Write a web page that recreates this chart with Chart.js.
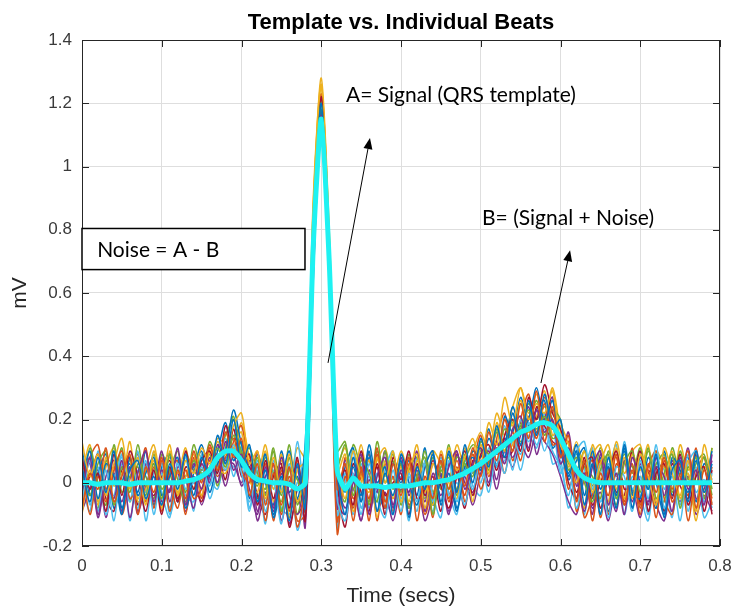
<!DOCTYPE html>
<html>
<head>
<meta charset="utf-8">
<title>Template vs. Individual Beats</title>
<script src="https://cdn.jsdelivr.net/npm/chart.js@4.4.0/dist/chart.umd.min.js"></script>
<style>
  html, body { margin: 0; padding: 0; background: #fff; }
  #wrap { width: 734px; height: 607px; }
</style>
</head>
<body>
<div id="wrap"><canvas id="ecg" width="734" height="607"></canvas></div>
<script>
// sample times (secs)
const times = [
  0.00, 0.01, 0.02, 0.03, 0.04, 0.05, 0.06, 0.07, 0.08, 0.09,
  0.10, 0.11, 0.12, 0.13, 0.14, 0.15, 0.16, 0.17, 0.18, 0.19,
  0.20, 0.21, 0.22, 0.23, 0.24, 0.25, 0.26, 0.27, 0.28, 0.29,
  0.30, 0.31, 0.32, 0.33, 0.34, 0.35, 0.36, 0.37, 0.38, 0.39,
  0.40, 0.41, 0.42, 0.43, 0.44, 0.45, 0.46, 0.47, 0.48, 0.49,
  0.50, 0.51, 0.52, 0.53, 0.54, 0.55, 0.56, 0.57, 0.58, 0.59,
  0.60, 0.61, 0.62, 0.63, 0.64, 0.65, 0.66, 0.67, 0.68, 0.69,
  0.70, 0.71, 0.72, 0.73, 0.74, 0.75, 0.76, 0.77, 0.78, 0.79
];

const xTicks = [0, 0.1, 0.2, 0.3, 0.4, 0.5, 0.6, 0.7, 0.8];
const xTickLabels = ['0', '0.1', '0.2', '0.3', '0.4', '0.5', '0.6', '0.7', '0.8'];
const yTicks = [-0.2, 0, 0.2, 0.4, 0.6, 0.8, 1, 1.2, 1.4];
const yTickLabels = ['-0.2', '0', '0.2', '0.4', '0.6', '0.8', '1', '1.2', '1.4'];

// QRS template (mV)
const template = [
  0, 0, -0.005, 0, 0, 0, -0.005, 0, 0, 0,
  0, 0, 0, 0.005, 0.01, 0.02, 0.04, 0.08, 0.1, 0.1,
  0.07, 0.03, 0.01, 0.005, 0, 0, -0.005, -0.02, 0.0, 0.75,
  1.15, 0.7, 0.04, -0.02, 0.015, -0.01, -0.01, -0.01, -0.015, -0.01,
  -0.01, -0.01, -0.005, 0, 0, 0.005, 0.01, 0.02, 0.03, 0.045,
  0.06, 0.08, 0.1, 0.12, 0.14, 0.16, 0.17, 0.185, 0.19, 0.18,
  0.14, 0.09, 0.04, 0.015, 0.005, 0, 0, 0, 0, 0,
  0, 0, 0, 0, 0, 0, 0, 0, 0, 0
];

// individual beats (mV)
const beat01 = [
  0.05, -0.06, 0.08, -0.03, 0.1, -0.08, 0.04, 0.07, -0.05, 0.02,
  -0.07, 0.06, -0.02, 0.09, -0.04, 0.08, 0.02, 0.15, 0.06, 0.2,
  0.05, 0.12, -0.06, 0.04, -0.1, 0.02, -0.12, 0.06, -0.08, 0.72,
  1.2, 0.68, 0.04, -0.1, 0.08, -0.06, 0.1, -0.09, 0.03, -0.04,
  0.07, -0.11, 0.05, -0.02, 0.09, -0.06, 0.1, -0.03, 0.12, 0.0,
  0.14, 0.05, 0.18, 0.08, 0.22, 0.12, 0.26, 0.15, 0.28, 0.17,
  0.2, 0.02, 0.1, -0.07, 0.06, -0.1, 0.08, -0.04, 0.11, -0.08,
  0.05, -0.02, 0.09, -0.11, 0.04, 0.07, -0.06, 0.1, -0.03, 0.06
];
const beat02 = [
  -0.08, 0.03, -0.02, 0.11, -0.06, 0.02, 0.09, -0.1, 0.05, -0.03,
  0.08, -0.09, 0.04, -0.05, 0.1, 0.0, 0.12, 0.04, 0.16, 0.08,
  0.14, -0.04, 0.06, -0.12, 0.03, -0.07, 0.05, -0.14, 0.02, 0.8,
  1.14, 0.74, -0.02, 0.06, -0.12, 0.04, -0.05, 0.11, -0.08, 0.06,
  -0.04, 0.08, -0.12, 0.02, -0.05, 0.09, -0.02, 0.07, -0.01, 0.11,
  0.02, 0.16, 0.07, 0.2, 0.1, 0.25, 0.14, 0.29, 0.13, 0.24,
  0.08, 0.15, -0.06, 0.07, -0.12, 0.03, -0.04, 0.09, -0.07, 0.04,
  -0.1, 0.06, -0.03, 0.08, -0.06, 0.01, 0.1, -0.08, 0.04, -0.05
];
const beat03 = [
  0.13, 0.02, 0.09, -0.04, 0.06, 0.14, -0.02, 0.08, -0.07, 0.1,
  0.01, 0.12, -0.04, 0.07, 0.03, 0.11, 0.06, 0.13, 0.09, 0.18,
  0.22, 0.06, 0.1, -0.05, 0.08, -0.03, 0.09, -0.06, 0.05, 0.86,
  1.28, 0.8, 0.08, -0.05, 0.1, 0.02, -0.03, 0.08, 0.0, 0.1,
  -0.06, 0.05, 0.09, -0.08, 0.06, 0.0, 0.11, 0.04, 0.08, 0.14,
  0.06, 0.19, 0.12, 0.27, 0.18, 0.3, 0.2, 0.25, 0.22, 0.29,
  0.12, 0.07, 0.0, 0.1, -0.03, 0.06, 0.12, -0.02, 0.08, -0.05,
  0.09, 0.02, -0.07, 0.11, 0.03, -0.04, 0.07, -0.09, 0.12, 0.0
];
const beat04 = [
  -0.03, 0.08, -0.1, 0.0, -0.05, 0.07, -0.11, 0.03, 0.1, -0.06,
  0.04, -0.03, 0.11, -0.07, 0.06, -0.02, 0.08, 0.0, 0.13, 0.04,
  0.09, -0.02, -0.1, 0.05, -0.08, 0.08, -0.04, -0.1, -0.03, 0.7,
  1.16, 0.66, 0.02, -0.08, 0.0, 0.09, -0.1, 0.02, 0.08, -0.07,
  0.04, -0.03, 0.1, -0.09, 0.03, -0.04, 0.05, 0.1, -0.02, 0.06,
  0.11, 0.0, 0.13, 0.06, 0.17, 0.21, 0.11, 0.23, 0.16, 0.2,
  0.06, 0.11, 0.02, -0.09, 0.05, 0.1, -0.07, 0.03, -0.1, 0.08,
  0.0, -0.06, 0.05, 0.02, -0.09, 0.08, -0.02, 0.04, -0.07, 0.09
];
const beat05 = [
  0.02, -0.04, 0.06, 0.1, -0.07, 0.05, -0.03, 0.12, -0.01, 0.06,
  -0.05, 0.09, 0.01, -0.06, 0.07, 0.03, 0.05, 0.11, 0.05, 0.15,
  0.1, 0.02, 0.08, -0.04, 0.1, -0.09, 0.04, 0.01, -0.06, 0.76,
  1.2, 0.72, 0.1, 0.13, -0.04, 0.07, 0.03, -0.06, 0.1, -0.02,
  0.06, -0.08, 0.02, 0.08, -0.1, 0.04, -0.02, 0.08, 0.06, 0.02,
  0.13, 0.09, 0.1, 0.17, 0.14, 0.18, 0.23, 0.17, 0.21, 0.14,
  0.15, 0.04, 0.08, 0.0, -0.06, 0.04, 0.09, -0.05, 0.06, 0.1,
  -0.03, 0.11, -0.05, 0.03, 0.09, -0.08, 0.05, 0.0, 0.08, -0.04
];
const beat06 = [
  -0.06, 0.07, -0.09, 0.04, -0.12, 0.06, 0.0, -0.08, 0.07, -0.1,
  0.03, -0.08, 0.06, -0.02, 0.0, 0.05, -0.01, 0.09, 0.04, 0.12,
  0.03, -0.06, 0.05, -0.09, 0.0, -0.13, 0.06, -0.15, 0.0, 0.74,
  1.12, 0.7, -0.05, -0.12, 0.03, -0.1, 0.06, -0.05, -0.11, 0.04,
  -0.09, 0.03, -0.06, 0.06, -0.04, -0.11, 0.07, -0.06, 0.04, -0.02,
  0.07, -0.03, 0.1, 0.03, 0.14, 0.09, 0.19, 0.12, 0.17, 0.1,
  0.05, -0.04, 0.1, 0.13, -0.02, 0.06, -0.11, 0.05, 0.02, -0.09,
  0.07, -0.05, 0.12, -0.08, 0.02, -0.12, 0.06, 0.1, -0.06, 0.03
];
const beat07 = [
  0.08, -0.02, 0.03, -0.09, 0.09, -0.04, 0.1, 0.02, -0.09, 0.04,
  -0.1, 0.05, -0.06, 0.1, -0.02, 0.07, 0.1, 0.03, 0.18, 0.09,
  0.07, 0.09, -0.07, 0.07, -0.05, 0.05, -0.08, 0.08, -0.12, 0.68,
  1.22, 0.76, 0.0, 0.04, -0.07, 0.1, -0.02, 0.05, -0.1, 0.08,
  0.01, 0.1, -0.05, -0.02, 0.07, -0.01, -0.08, 0.02, 0.1, -0.04,
  0.09, 0.12, 0.04, 0.15, 0.2, 0.1, 0.27, 0.2, 0.31, 0.22,
  0.17, 0.09, -0.03, 0.06, 0.08, -0.08, 0.02, 0.1, -0.02, 0.0,
  0.1, -0.09, 0.03, 0.06, -0.05, 0.09, -0.07, 0.02, 0.05, -0.1
];
const beat08 = [
  0.0, 0.1, -0.05, 0.06, 0.02, -0.1, 0.08, -0.04, 0.03, 0.08,
  -0.04, 0.02, 0.08, -0.08, 0.03, 0.1, -0.03, 0.06, 0.1, 0.23,
  0.12, 0.04, 0.0, 0.09, -0.11, 0.0, 0.1, -0.05, 0.13, 0.82,
  1.18, 0.68, 0.06, -0.03, 0.05, -0.04, 0.12, 0.0, 0.05, -0.1,
  0.09, 0.0, -0.07, 0.05, 0.1, -0.07, 0.03, -0.09, 0.05, 0.08,
  0.04, 0.14, 0.09, 0.12, 0.24, 0.16, 0.2, 0.3, 0.19, 0.26,
  0.1, 0.03, 0.12, -0.04, 0.1, -0.02, 0.05, -0.08, 0.12, -0.03,
  -0.05, 0.08, 0.0, -0.1, 0.08, 0.04, -0.03, 0.07, -0.01, 0.1
];
const beat09 = [
  0.06, -0.1, 0.02, -0.06, 0.04, 0.1, -0.05, 0.0, 0.11, -0.08,
  0.07, 0.0, -0.08, 0.04, -0.05, -0.02, 0.07, 0.02, 0.08, 0.14,
  0.04, 0.0, 0.1, -0.07, 0.06, -0.1, 0.02, -0.12, -0.1, 0.7,
  1.15, 0.64, -0.16, 0.02, -0.08, 0.05, -0.12, 0.09, -0.06, 0.02,
  -0.1, 0.06, 0.02, -0.1, 0.0, 0.07, -0.06, 0.05, -0.04, 0.09,
  -0.02, 0.07, 0.13, 0.03, 0.16, 0.07, 0.21, 0.14, 0.25, 0.12,
  0.13, -0.02, 0.05, -0.11, -0.04, 0.07, -0.1, 0.06, 0.0, 0.06,
  -0.08, 0.04, -0.11, 0.07, -0.02, 0.06, -0.12, 0.03, 0.08, -0.07
];
const beat10 = [
  -0.1, 0.04, -0.07, 0.08, -0.01, 0.03, 0.07, -0.06, -0.02, 0.07,
  -0.08, 0.1, -0.03, 0.02, 0.09, -0.04, 0.1, 0.05, 0.03, 0.11,
  0.16, 0.01, -0.03, 0.1, -0.06, 0.09, -0.11, 0.04, 0.07, 0.88,
  1.25, 0.78, 0.03, 0.09, -0.09, 0.0, 0.07, -0.11, 0.07, -0.05,
  0.05, -0.06, 0.07, 0.01, -0.07, 0.1, 0.0, -0.05, 0.11, -0.06,
  0.12, 0.03, 0.19, 0.1, 0.12, 0.26, 0.16, 0.21, 0.29, 0.15,
  0.18, 0.12, 0.03, -0.08, 0.12, 0.01, -0.06, 0.11, -0.05, 0.09,
  0.04, 0.12, -0.06, 0.01, 0.1, -0.05, 0.03, -0.12, 0.05, 0.02
];
const beat11 = [
  0.04, 0.06, -0.11, 0.02, 0.07, -0.09, 0.05, -0.1, 0.06, 0.0,
  0.1, -0.06, 0.05, 0.01, -0.08, 0.06, 0.0, 0.12, 0.07, 0.06,
  0.0, 0.07, -0.09, 0.02, 0.06, -0.12, 0.0, 0.05, -0.14, 0.66,
  1.1, 0.7, -0.08, 0.07, 0.02, -0.12, 0.04, -0.03, 0.1, -0.08,
  0.08, -0.04, 0.04, -0.06, 0.06, 0.02, -0.1, 0.09, 0.0, -0.03,
  0.06, 0.1, 0.01, 0.14, 0.08, 0.15, 0.24, 0.09, 0.2, 0.27,
  0.08, 0.16, -0.01, 0.03, -0.1, 0.09, 0.0, -0.09, 0.07, -0.06,
  0.06, -0.07, 0.08, -0.04, 0.07, 0.0, 0.11, -0.05, -0.02, 0.07
];
const beat12 = [
  -0.05, 0.11, 0.0, -0.07, 0.12, -0.03, 0.02, 0.05, -0.04, 0.09,
  -0.02, 0.04, 0.1, -0.03, 0.12, 0.04, 0.09, -0.01, 0.11, 0.21,
  0.08, 0.11, 0.03, -0.02, 0.11, -0.04, 0.12, -0.07, 0.1, 0.78,
  1.21, 0.74, 0.05, 0.12, -0.02, 0.08, -0.07, 0.1, 0.02, 0.09,
  -0.03, 0.09, -0.01, 0.1, -0.03, 0.05, 0.08, -0.02, 0.07, 0.12,
  0.1, 0.06, 0.16, 0.13, 0.19, 0.13, 0.17, 0.26, 0.15, 0.23,
  0.2, 0.06, 0.09, 0.05, 0.02, -0.05, 0.1, 0.02, 0.09, 0.03,
  0.11, -0.02, 0.06, 0.09, -0.03, 0.1, 0.01, 0.08, -0.05, 0.11
];
const beat13 = [
  0.09, -0.07, 0.05, -0.1, 0.01, 0.08, -0.06, 0.1, -0.12, 0.03,
  0.06, -0.1, 0.0, 0.08, -0.09, 0.09, -0.05, 0.04, 0.14, 0.02,
  0.11, -0.08, 0.04, -0.13, 0.07, -0.02, -0.07, 0.13, -0.05, 0.84,
  1.19, 0.72, -0.1, 0.0, 0.1, -0.08, 0.02, -0.09, 0.04, 0.1,
  -0.05, 0.02, -0.09, 0.07, -0.06, 0.08, -0.04, 0.0, -0.07, 0.04,
  0.0, 0.11, 0.05, 0.18, 0.04, 0.2, 0.13, 0.19, 0.1, 0.18,
  0.03, 0.08, -0.08, 0.04, 0.11, -0.1, 0.06, -0.05, 0.13, -0.02,
  0.02, -0.1, 0.09, -0.02, 0.05, -0.07, 0.09, -0.03, 0.01, -0.08
];
const beat14 = [
  -0.02, 0.02, 0.09, -0.05, -0.09, 0.04, 0.08, -0.07, 0.0, -0.04,
  0.02, 0.07, -0.05, 0.05, 0.01, -0.06, 0.04, 0.09, 0.01, 0.17,
  0.02, 0.05, -0.04, -0.1, 0.02, 0.06, -0.14, -0.02, 0.04, 0.76,
  1.17, 0.69, 0.01, -0.14, 0.06, -0.03, -0.09, 0.06, -0.04, 0.0,
  0.03, -0.1, 0.06, -0.04, 0.02, -0.09, 0.06, 0.03, -0.08, 0.07,
  0.05, -0.01, 0.11, 0.08, 0.1, 0.19, 0.1, 0.24, 0.18, 0.13,
  0.11, 0.0, -0.05, 0.08, -0.07, 0.0, 0.05, -0.03, -0.04, 0.1,
  -0.06, 0.03, 0.05, -0.09, 0.06, -0.01, -0.05, 0.09, -0.09, 0.04
];
const beat15 = [
  0.11, -0.04, 0.03, 0.09, -0.08, 0.0, 0.06, -0.03, 0.1, -0.07,
  0.05, 0.09, -0.06, 0.02, 0.05, 0.12, 0.03, 0.1, 0.19, 0.07,
  0.13, -0.05, 0.09, 0.0, -0.07, 0.1, -0.03, 0.02, -0.09, 0.74,
  1.19, 0.7, -0.04, 0.05, 0.11, -0.06, 0.08, -0.02, -0.08, 0.06,
  0.0, 0.07, -0.04, 0.11, -0.07, 0.01, 0.09, -0.08, 0.03, 0.1,
  0.08, 0.17, 0.05, 0.21, 0.16, 0.27, 0.18, 0.23, 0.26, 0.11,
  0.14, 0.01, 0.07, 0.11, -0.05, 0.08, -0.09, 0.0, 0.1, -0.04,
  0.08, 0.0, -0.08, 0.1, -0.04, 0.05, 0.08, -0.06, 0.06, 0.01
];
const beat16 = [
  -0.04, 0.08, 0.12, -0.02, 0.05, -0.1, 0.01, 0.09, -0.06, 0.05,
  -0.09, 0.03, 0.07, -0.1, 0.08, -0.05, 0.11, 0.06, 0.04, 0.13,
  0.18, 0.03, -0.05, 0.06, -0.12, 0.04, -0.09, 0.07, -0.07, 0.79,
  1.23, 0.73, -0.12, 0.08, -0.05, 0.02, 0.09, -0.12, 0.06, -0.09,
  0.06, -0.07, 0.0, 0.06, -0.11, 0.07, -0.05, 0.1, -0.06, 0.05,
  0.15, 0.02, 0.14, 0.22, 0.07, 0.2, 0.28, 0.16, 0.27, 0.19,
  0.09, 0.13, -0.09, 0.02, 0.07, -0.11, 0.04, 0.08, -0.06, 0.11,
  -0.07, 0.05, 0.1, -0.05, -0.1, 0.03, -0.04, 0.11, -0.05, 0.05
];
const beat17 = [
  0.03, 0.12, -0.06, 0.05, 0.11, 0.0, 0.13, -0.05, 0.04, 0.12,
  0.0, 0.08, 0.03, 0.11, -0.02, 0.09, 0.07, 0.14, 0.12, 0.1,
  0.19, 0.08, 0.02, 0.12, -0.02, 0.07, 0.0, 0.11, 0.08, 0.9,
  1.26, 0.77, 0.06, 0.11, 0.0, 0.12, -0.01, 0.07, 0.11, 0.01,
  0.1, 0.03, 0.12, -0.03, 0.1, 0.06, 0.01, 0.12, 0.05, 0.1,
  0.16, 0.09, 0.22, 0.15, 0.24, 0.3, 0.22, 0.28, 0.2, 0.3,
  0.16, 0.05, 0.13, 0.04, 0.09, 0.12, 0.0, 0.13, 0.03, 0.1,
  0.12, 0.0, 0.1, 0.05, -0.02, 0.12, 0.04, 0.09, -0.03, 0.11
];
const beat18 = [
  -0.09, -0.02, 0.04, -0.11, 0.03, -0.06, 0.05, -0.09, -0.01, 0.06,
  -0.06, -0.02, 0.03, -0.09, 0.02, -0.07, 0.02, 0.07, -0.01, 0.09,
  -0.01, 0.04, -0.12, -0.03, -0.09, 0.03, -0.13, -0.05, -0.11, 0.64,
  1.13, 0.66, -0.06, -0.1, -0.02, -0.12, 0.01, -0.09, -0.03, -0.12,
  -0.02, -0.08, 0.01, -0.12, -0.04, 0.03, -0.09, -0.02, 0.02, -0.07,
  0.03, 0.08, -0.02, 0.1, 0.05, 0.12, 0.08, 0.16, 0.13, 0.09,
  0.02, -0.06, -0.1, 0.01, -0.08, -0.03, -0.12, 0.0, -0.07, -0.02,
  -0.11, 0.01, -0.07, -0.12, 0.0, -0.06, 0.02, -0.1, -0.04, -0.09
];
const beat19 = [
  0.07, 0.0, -0.08, 0.07, 0.02, 0.11, -0.06, 0.06, 0.02, -0.05,
  0.09, 0.03, -0.04, 0.09, 0.04, 0.01, 0.13, 0.08, 0.15, 0.2,
  0.09, 0.05, -0.01, 0.08, 0.03, -0.06, 0.08, -0.1, 0.06, 0.81,
  1.17, 0.75, 0.02, -0.06, 0.12, 0.04, -0.06, 0.13, 0.0, 0.07,
  -0.07, 0.04, 0.08, -0.05, 0.08, -0.02, 0.12, -0.04, 0.09, 0.03,
  0.11, 0.04, 0.17, 0.1, 0.2, 0.17, 0.25, 0.2, 0.24, 0.2,
  0.1, 0.07, 0.04, 0.1, -0.01, 0.11, 0.03, -0.07, 0.07, 0.05,
  0.0, 0.1, 0.02, -0.06, 0.11, 0.02, -0.01, 0.06, 0.09, -0.02
];
const beat20 = [
  -0.01, -0.09, 0.1, -0.03, -0.04, 0.09, -0.12, 0.04, -0.03, 0.1,
  -0.03, -0.11, 0.07, -0.04, -0.06, 0.04, 0.01, -0.02, 0.08, 0.05,
  0.06, -0.09, 0.07, -0.06, 0.04, -0.08, -0.1, 0.0, -0.02, 0.71,
  1.13, 0.71, -0.14, 0.03, -0.1, 0.06, -0.08, 0.03, -0.05, -0.1,
  0.02, -0.12, 0.08, -0.02, -0.09, 0.05, -0.03, -0.1, 0.07, -0.01,
  -0.04, 0.09, 0.06, 0.07, 0.13, 0.04, 0.15, 0.11, 0.22, 0.06,
  0.07, -0.08, 0.03, -0.1, 0.09, -0.06, 0.03, 0.12, -0.1, 0.02,
  -0.04, -0.12, 0.06, 0.04, -0.11, 0.07, -0.09, 0.05, -0.11, -0.06
];

const beats = [beat01, beat02, beat03, beat04, beat05, beat06, beat07,
               beat08, beat09, beat10, beat11, beat12, beat13, beat14,
               beat15, beat16, beat17, beat18, beat19, beat20];
const beatColors = ['#0072BD', '#D95319', '#EDB120', '#7E2F8E', '#77AC30', '#4DBEEE', '#A2142F'];

const toPoints = (vals) => vals.map((v, i) => ({ x: times[i], y: v }));

// title, axes box, text boxes and arrows drawn on top (placed in data units)
const notesPlugin = {
  id: 'notes',
  afterDraw(chart) {
    const { ctx, chartArea: a, scales: { x, y } } = chart;
    ctx.save();

    ctx.fillStyle = '#000';
    ctx.font = 'bold 22px "Liberation Sans", Arial, sans-serif';
    ctx.textAlign = 'center';
    ctx.textBaseline = 'middle';
    ctx.fillText('Template vs. Individual Beats', (a.left + a.right) / 2, 23);

    // axes box and inward ticks (MATLAB style)
    ctx.strokeStyle = '#262626';
    ctx.lineWidth = 1;
    ctx.strokeRect(Math.round(a.left) + 0.5, Math.round(a.top) + 0.5,
                   Math.round(a.right - a.left) - 1, Math.round(a.bottom - a.top) - 1);
    ctx.beginPath();
    xTicks.forEach(v => {
      const px = Math.round(x.getPixelForValue(v)) + 0.5;
      ctx.moveTo(px, a.bottom); ctx.lineTo(px, a.bottom - 7);
      ctx.moveTo(px, a.top); ctx.lineTo(px, a.top + 7);
    });
    yTicks.forEach(v => {
      const py = Math.round(y.getPixelForValue(v)) + 0.5;
      ctx.moveTo(a.left, py); ctx.lineTo(a.left + 7, py);
      ctx.moveTo(a.right, py); ctx.lineTo(a.right - 7, py);
    });
    ctx.stroke();

    // Noise box
    const bx0 = x.getPixelForValue(0), bx1 = x.getPixelForValue(0.2796);
    const by0 = y.getPixelForValue(0.804), by1 = y.getPixelForValue(0.674);
    ctx.fillStyle = '#fff';
    ctx.fillRect(bx0, by0, bx1 - bx0, by1 - by0);
    ctx.strokeStyle = '#000';
    ctx.lineWidth = 1.5;
    ctx.strokeRect(bx0, by0, bx1 - bx0, by1 - by0);

    ctx.fillStyle = '#000';
    ctx.font = '21px Lato, "Open Sans", sans-serif';
    ctx.textAlign = 'left';
    ctx.textBaseline = 'middle';
    ctx.fillText('Noise = A - B', x.getPixelForValue(0.019), y.getPixelForValue(0.735));
    ctx.fillText('A= Signal (QRS template)', x.getPixelForValue(0.331), y.getPixelForValue(1.226));
    ctx.fillText('B= (Signal + Noise)', x.getPixelForValue(0.5016), y.getPixelForValue(0.837));

    const arrow = (t0, v0, t1, v1) => {
      const x0 = x.getPixelForValue(t0), y0 = y.getPixelForValue(v0);
      const x1 = x.getPixelForValue(t1), y1 = y.getPixelForValue(v1);
      const ang = Math.atan2(y1 - y0, x1 - x0);
      const len = 11, half = 4.5;
      ctx.strokeStyle = '#000';
      ctx.lineWidth = 1;
      ctx.beginPath();
      ctx.moveTo(x0, y0);
      ctx.lineTo(x1 - Math.cos(ang) * len, y1 - Math.sin(ang) * len);
      ctx.stroke();
      ctx.beginPath();
      ctx.moveTo(x1, y1);
      ctx.lineTo(x1 - Math.cos(ang) * len - Math.sin(ang) * half, y1 - Math.sin(ang) * len + Math.cos(ang) * half);
      ctx.lineTo(x1 - Math.cos(ang) * len + Math.sin(ang) * half, y1 - Math.sin(ang) * len - Math.cos(ang) * half);
      ctx.closePath();
      ctx.fill();
    };
    arrow(0.3085, 0.379, 0.3611, 1.09);
    arrow(0.5755, 0.3154, 0.612, 0.735);

    ctx.restore();
  }
};

const datasets = [{
  label: 'Template',
  data: toPoints(template),
  borderColor: '#1ef2f2',
  borderWidth: 5,
  pointRadius: 0,
  tension: 0.2
}];
beats.forEach((b, i) => {
  datasets.push({
    label: 'Beat ' + (i + 1),
    data: toPoints(b),
    borderColor: beatColors[i % beatColors.length],
    borderWidth: 1.5,
    pointRadius: 0,
    tension: 0.3
  });
});

new Chart(document.getElementById('ecg').getContext('2d'), {
  type: 'line',
  data: { datasets },
  options: {
    responsive: false,
    animation: false,
    devicePixelRatio: 1,
    layout: { padding: { left: 0, right: 14, top: 40, bottom: 0 } },
    plugins: {
      legend: { display: false },
      tooltip: { enabled: false },
      title: { display: false }
    },
    scales: {
      x: {
        type: 'linear',
        min: 0,
        max: 0.8,
        afterBuildTicks: (scale) => { scale.ticks = xTicks.map(v => ({ value: v })); },
        afterFit: (scale) => { scale.height = 61; scale.paddingLeft = 0; scale.paddingRight = 0; },
        ticks: {
          callback: (val, idx) => xTickLabels[idx],
          color: '#3a3a3a',
          padding: 10,
          maxRotation: 0,
          font: { family: '"Liberation Sans", Arial, sans-serif', size: 17 }
        },
        grid: { color: '#dedede', lineWidth: 1, drawTicks: false },
        border: { display: false },
        title: {
          display: true,
          text: 'Time (secs)',
          color: '#262626',
          font: { family: '"Liberation Sans", Arial, sans-serif', size: 21, lineHeight: 1 },
          padding: { top: 0, bottom: 0 }
        }
      },
      y: {
        type: 'linear',
        min: -0.2,
        max: 1.4,
        afterBuildTicks: (scale) => { scale.ticks = yTicks.map(v => ({ value: v })); },
        afterFit: (scale) => { scale.width = 82; scale.paddingTop = 0; scale.paddingBottom = 0; },
        ticks: {
          callback: (val, idx) => yTickLabels[idx],
          color: '#3a3a3a',
          padding: 10,
          font: { family: '"Liberation Sans", Arial, sans-serif', size: 17 }
        },
        grid: { color: '#dedede', lineWidth: 1, drawTicks: false },
        border: { display: false },
        title: {
          display: true,
          text: 'mV',
          color: '#262626',
          font: { family: '"Liberation Sans", Arial, sans-serif', size: 21, lineHeight: 1 },
          padding: { top: 10, bottom: 0 }
        }
      }
    }
  },
  plugins: [notesPlugin]
});
</script>
</body>
</html>
